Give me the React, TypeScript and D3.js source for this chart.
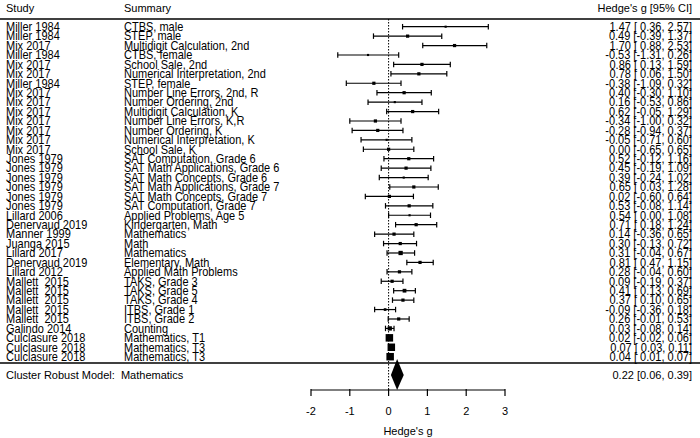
import React from "react";
import * as d3 from "d3";

const studies = [
  "Miller 1984", "Miller 1984", "Mix 2017", "Miller 1984", "Mix 2017", "Mix 2017", "Miller 1984",
  "Mix 2017", "Mix 2017", "Mix 2017", "Mix 2017", "Mix 2017", "Mix 2017", "Mix 2017",
  "Jones 1979", "Jones 1979", "Jones 1979", "Jones 1979", "Jones 1979", "Jones 1979",
  "Lillard 2006", "Denervaud 2019", "Manner 1999", "Juanga 2015", "Lillard 2017", "Denervaud 2019",
  "Lillard 2012", "Mallett  2015", "Mallett  2015", "Mallett  2015", "Mallett  2015", "Mallett  2015",
  "Galindo 2014", "Culclasure 2018", "Culclasure 2018", "Culclasure 2018",
];

const summaries = [
  "CTBS, male", "STEP, male", "Multidigit Calculation, 2nd", "CTBS, female", "School Sale, 2nd",
  "Numerical Interpretation, 2nd", "STEP, female", "Number Line Errors, 2nd, R", "Number Ordering, 2nd",
  "Multidigit Calculation, K", "Number Line Errors, K,R", "Number Ordering, K", "Numerical Interpretation, K",
  "School Sale, K", "SAT Computation, Grade 6", "SAT Math Applications, Grade 6", "SAT Math Concepts, Grade 6",
  "SAT Math Applications, Grade 7", "SAT Math Concepts, Grade 7", "SAT Computation, Grade 7",
  "Applied Problems, Age 5", "Kindergarten, Math", "Mathematics", "Math", "Mathematics", "Elementary, Math",
  "Applied Math Problems", "TAKS, Grade 3", "TAKS, Grade 5", "TAKS, Grade 4", "ITBS, Grade 1", "ITBS, Grade 2",
  "Counting", "Mathematics, T1", "Mathematics, T3", "Mathematics, T3",
];

const estimates = [
  1.47, 0.49, 1.70, -0.53, 0.86, 0.78, -0.38, 0.40, 0.16, 0.62, -0.34, -0.28, -0.05, 0.00,
  0.52, 0.45, 0.39, 0.65, 0.02, 0.53, 0.54, 0.71, 0.14, 0.30, 0.31, 0.81, 0.28,
  0.09, 0.41, 0.37, -0.09, 0.26, 0.03, 0.02, 0.07, 0.04,
];
const lowers = [
  0.36, -0.39, 0.88, -1.31, 0.13, 0.06, -1.09, -0.30, -0.53, -0.05, -1.00, -0.94, -0.71, -0.65,
  -0.12, -0.19, -0.24, 0.03, -0.60, -0.08, 0.00, 0.18, -0.36, -0.13, -0.04, 0.47, -0.04,
  -0.19, 0.13, 0.10, -0.36, -0.01, -0.08, -0.02, 0.03, 0.01,
];
const uppers = [
  2.57, 1.37, 2.53, 0.26, 1.59, 1.50, 0.32, 1.10, 0.86, 1.29, 0.32, 0.37, 0.60, 0.65,
  1.16, 1.09, 1.02, 1.28, 0.64, 1.14, 1.08, 1.24, 0.65, 0.72, 0.67, 1.15, 0.60,
  0.37, 0.69, 0.65, 0.18, 0.53, 0.14, 0.06, 0.11, 0.07,
];
// relative marker weights
const weights = [
  2, 3, 3, 2, 3, 3, 3, 3, 2, 3, 3, 3, 2, 3,
  3, 3, 2, 3, 3, 3, 2, 3, 3, 3, 4, 3, 3,
  3, 3.5, 3, 2.5, 3, 4, 7, 7, 7,
];

const pooledLabel = "Cluster Robust Model:  Mathematics";
const pooled = { est: 0.22, lo: 0.06, hi: 0.39 };
const xTicks = [-2, -1, 0, 1, 2, 3];

const W = 700;
const H = 438;
const FONT = "'Liberation Sans', Arial, sans-serif";

const fmt = (v: number) => (Math.abs(v) < 0.005 ? 0 : v).toFixed(2);

export default function App() {
  const x = d3.scaleLinear().domain([-2, 3]).range([311, 505]);
  const idx = d3.range(studies.length);
  const y = d3.scalePoint<number>().domain(idx).range([26.7, 356.7]);
  const sz = d3.scaleLinear().domain([0, 7]).range([0, 7.5]);
  const capH = 5.5;
  const axisY = 390;
  const summaryY = 375;

  const rowText = (tx: number, ty: number, s: string, anchor: string = "start") => (
    <g transform={`translate(${tx},${ty}) scale(0.917,1)`}>
      <text
        x={0}
        y={0}
        dy="0.36em"
        textAnchor={anchor as any}
        fontSize={12}
        style={{ whiteSpace: "pre" }}
        fill="#000"
      >
        {s}
      </text>
    </g>
  );

  const diamond = [
    [x(pooled.lo), summaryY],
    [x(pooled.est), summaryY - 16],
    [x(pooled.hi), summaryY],
    [x(pooled.est), summaryY + 15],
  ];

  return (
    <svg width={W} height={H} style={{ position: "absolute", left: 0, top: 0, background: "#fff" }} fontFamily={FONT}>
      <rect width={W} height={H} fill="#fff" />
      {/* headers */}
      <text x={6} y={8} dy="0.35em" fontSize={11}>Study</text>
      <text x={124} y={8} dy="0.35em" fontSize={11}>Summary</text>
      <text x={692} y={8} dy="0.35em" fontSize={11} textAnchor="end">Hedge's g [95% CI]</text>
      <line x1={0} x2={W} y1={19} y2={19} stroke="#000" strokeWidth={1.5} />
      <line x1={0} x2={W} y1={363} y2={363} stroke="#000" strokeWidth={1.5} />

      {/* reference line */}
      <line x1={x(0)} x2={x(0)} y1={19} y2={axisY} stroke="#000" strokeWidth={1} strokeDasharray="1.5,1.5" />

      {/* rows */}
      {idx.map((i) => {
        const yy = y(i)!;
        const s = sz(weights[i]);
        const loTxt = (lowers[i] < 0 ? "" : " ") + fmt(lowers[i]);
        return (
          <g key={i}>
            {rowText(6, yy, studies[i], "start")}
            {rowText(124, yy, summaries[i], "start")}
            {rowText(692, yy, `${fmt(estimates[i])} [${loTxt}, ${fmt(uppers[i])}]`, "end")}
            <line x1={x(lowers[i])} x2={x(uppers[i])} y1={yy} y2={yy} stroke="#000" strokeWidth={1.2} />
            <line x1={x(lowers[i])} x2={x(lowers[i])} y1={yy - capH / 2} y2={yy + capH / 2} stroke="#000" strokeWidth={1.2} />
            <line x1={x(uppers[i])} x2={x(uppers[i])} y1={yy - capH / 2} y2={yy + capH / 2} stroke="#000" strokeWidth={1.2} />
            <rect x={x(estimates[i]) - s / 2} y={yy - s / 2} width={s} height={s} fill="#000" />
          </g>
        );
      })}

      {/* pooled */}
      <text x={6} y={summaryY} dy="0.35em" fontSize={11} style={{ whiteSpace: "pre" }}>{pooledLabel}</text>
      <text x={692} y={summaryY} dy="0.35em" fontSize={11} textAnchor="end">
        {`${fmt(pooled.est)} [${fmt(pooled.lo)}, ${fmt(pooled.hi)}]`}
      </text>
      <polygon points={diamond.map((p) => p.join(",")).join(" ")} fill="#000" />

      {/* axis */}
      <line x1={x(-2)} x2={x(3)} y1={axisY} y2={axisY} stroke="#000" strokeWidth={1.2} />
      {xTicks.map((t) => (
        <g key={t}>
          <line x1={x(t)} x2={x(t)} y1={axisY - 1} y2={axisY + 6} stroke="#000" strokeWidth={1.2} />
          <text x={x(t)} y={411} dy="0.35em" fontSize={11} textAnchor="middle">{t}</text>
        </g>
      ))}
      <text x={x(0.5)} y={431} dy="0.35em" fontSize={11} textAnchor="middle">Hedge's g</text>
    </svg>
  );
}
